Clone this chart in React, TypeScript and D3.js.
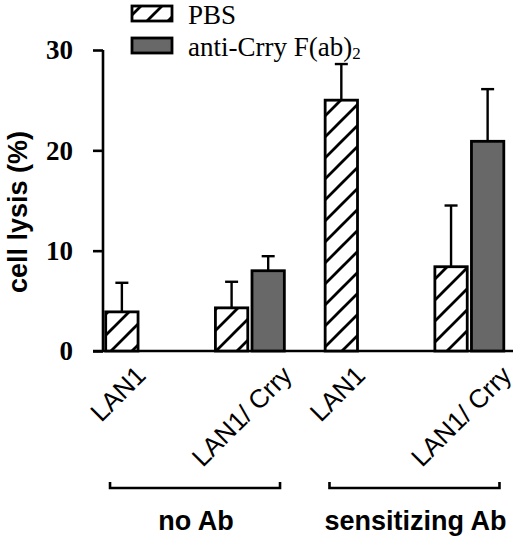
import * as d3 from 'd3';
import React, { useEffect, useRef } from 'react';

const groups = ['noAb-LAN1', 'noAb-Crry', 'sens-LAN1', 'sens-Crry'];
const groupLabels = ['LAN1', 'LAN1/ Crry', 'LAN1', 'LAN1/ Crry'];
const seriesKeys = ['PBS', 'anti-Crry'];
const pbsValues = [3.9, 4.3, 25.0, 8.4];
const pbsErrors = [2.9, 2.6, 3.6, 6.1];
const antiValues: (number | null)[] = [null, 8.0, null, 20.9];
const antiErrors: (number | null)[] = [null, 1.45, null, 5.2];
const yTicks = [0, 10, 20, 30];
const brackets = [
  { label: 'no Ab', from: 0, to: 1 },
  { label: 'sensitizing Ab', from: 2, to: 3 },
];

const width = 520;
const height = 537;
const margin = { top: 50, bottom: 186, left: 103, right: 15 };
const GRAY = '#686868';
const SANS = "'Liberation Sans', Arial, sans-serif";
const SERIF = "'Liberation Serif', 'Times New Roman', serif";

const App: React.FC = () => {
  const svgRef = useRef<SVGSVGElement>(null);
  useEffect(() => {
    if (!svgRef.current) return;
    const svg = d3.select(svgRef.current);
    svg.selectAll('*').remove();

    const yScale = d3
      .scaleLinear()
      .domain([0, 30])
      .range([height - margin.bottom, margin.top]);
    const x0 = d3
      .scaleBand<string>()
      .domain(groups)
      .range([104.5, 505])
      .paddingInner(0.35);
    const x1 = d3
      .scaleBand<string>()
      .domain(seriesKeys)
      .range([0, x0.bandwidth()])
      .paddingInner(0.05);

    // hatch pattern
    const defs = svg.append('defs');
    const pat = defs
      .append('pattern')
      .attr('id', 'hatch')
      .attr('patternUnits', 'userSpaceOnUse')
      .attr('width', 21)
      .attr('height', 21);
    pat.append('rect').attr('width', 21).attr('height', 21).attr('fill', '#fff');
    pat
      .append('path')
      .attr('d', 'M-3,24 L24,-3 M-3,3 L3,-3 M18,24 L24,18')
      .attr('stroke', '#000')
      .attr('stroke-width', 2.8);

    // y axis
    const yAxis = svg
      .append('g')
      .attr('transform', `translate(${margin.left},0)`)
      .call(d3.axisLeft(yScale).tickValues(yTicks).tickSize(10).tickFormat(d3.format('d')));
    yAxis.select('.domain').attr('stroke-width', 2.6).attr('d', `M0,${yScale(30)}V${yScale(0)}`);
    yAxis.selectAll('.tick line').attr('stroke-width', 2.6);
    yAxis
      .selectAll('.tick text')
      .attr('x', -30)
      .attr('dy', '0.33em')
      .attr('font-family', SERIF)
      .attr('font-weight', 'bold')
      .attr('font-size', 27)
      .attr('fill', '#000');

    // x axis baseline
    svg
      .append('line')
      .attr('x1', margin.left - 10)
      .attr('x2', width - 7)
      .attr('y1', yScale(0))
      .attr('y2', yScale(0))
      .attr('stroke', '#000')
      .attr('stroke-width', 2.6);

    const drawSeries = (
      key: string,
      values: (number | null)[],
      errors: (number | null)[],
      fill: string
    ) => {
      groups.forEach((g, i) => {
        const v = values[i];
        if (v == null) return;
        const bx = x0(g)! + x1(key)!;
        const bw = x1.bandwidth();
        const cx = bx + bw / 2;
        const e = errors[i] ?? 0;
        svg
          .append('line')
          .attr('x1', cx)
          .attr('x2', cx)
          .attr('y1', yScale(v))
          .attr('y2', yScale(v + e))
          .attr('stroke', '#000')
          .attr('stroke-width', 2.4);
        svg
          .append('line')
          .attr('x1', cx - 6.5)
          .attr('x2', cx + 6.5)
          .attr('y1', yScale(v + e))
          .attr('y2', yScale(v + e))
          .attr('stroke', '#000')
          .attr('stroke-width', 2.4);
        svg
          .append('rect')
          .attr('x', bx + 1.2)
          .attr('y', yScale(v))
          .attr('width', bw - 2.4)
          .attr('height', yScale(0) - yScale(v))
          .attr('fill', fill)
          .attr('stroke', '#000')
          .attr('stroke-width', 2.8);
      });
    };
    drawSeries('PBS', pbsValues, pbsErrors, 'url(#hatch)');
    drawSeries('anti-Crry', antiValues, antiErrors, GRAY);

    // rotated category labels, anchored at the right edge of the last bar
    groups.forEach((g, i) => {
      const key = antiValues[i] == null ? 'PBS' : 'anti-Crry';
      const ex = x0(g)! + x1(key)! + x1.bandwidth() + 8;
      svg
        .append('text')
        .attr('transform', `translate(${ex},${yScale(0) + 26}) rotate(-45)`)
        .attr('text-anchor', 'end')
        .attr('font-family', SANS)
        .attr('font-size', 26)
        .attr('fill', '#000')
        .text(groupLabels[i]);
    });

    // brackets
    brackets.forEach((b) => {
      const a = x0(groups[b.from])! + x0.bandwidth() / 2;
      const c = x0(groups[b.to])! + x0.bandwidth() / 2;
      const mid = (a + c) / 2;
      const half = 85;
      svg
        .append('path')
        .attr('d', `M${mid - half},482V488H${mid + half}V482`)
        .attr('fill', 'none')
        .attr('stroke', '#000')
        .attr('stroke-width', 2.6);
      svg
        .append('text')
        .attr('x', mid + 1)
        .attr('y', 530)
        .attr('text-anchor', 'middle')
        .attr('font-family', SANS)
        .attr('font-weight', 'bold')
        .attr('font-size', 27)
        .attr('fill', '#000')
        .text(b.label);
    });

    // y title
    svg
      .append('text')
      .attr('transform', `translate(27,212) rotate(-90)`)
      .attr('text-anchor', 'middle')
      .attr('font-family', SANS)
      .attr('font-weight', 'bold')
      .attr('font-size', 27)
      .attr('fill', '#000')
      .text('cell lysis (%)');

    // legend
    const legend = [
      { label: 'PBS', fill: 'url(#hatch)', y: 6 },
      { label: 'anti-Crry F(ab)', fill: GRAY, y: 38 },
    ];
    legend.forEach((l, i) => {
      svg
        .append('rect')
        .attr('x', 132)
        .attr('y', l.y)
        .attr('width', 40)
        .attr('height', 15)
        .attr('fill', l.fill)
        .attr('stroke', '#000')
        .attr('stroke-width', 2.8);
      const t = svg
        .append('text')
        .attr('x', 188)
        .attr('y', l.y + 18)
        .attr('font-family', SERIF)
        .attr('font-size', 27)
        .attr('fill', '#000')
        .text(l.label);
      if (i === 1) {
        t.append('tspan').attr('font-size', 17).attr('dy', 3).text('2');
      }
    });
  }, []);
  return (
    <svg
      ref={svgRef}
      width={width}
      height={height}
      viewBox={`0 0 ${width} ${height}`}
      style={{ position: 'absolute', left: 0, top: 0, background: '#fff' }}
    />
  );
};

export default App;
